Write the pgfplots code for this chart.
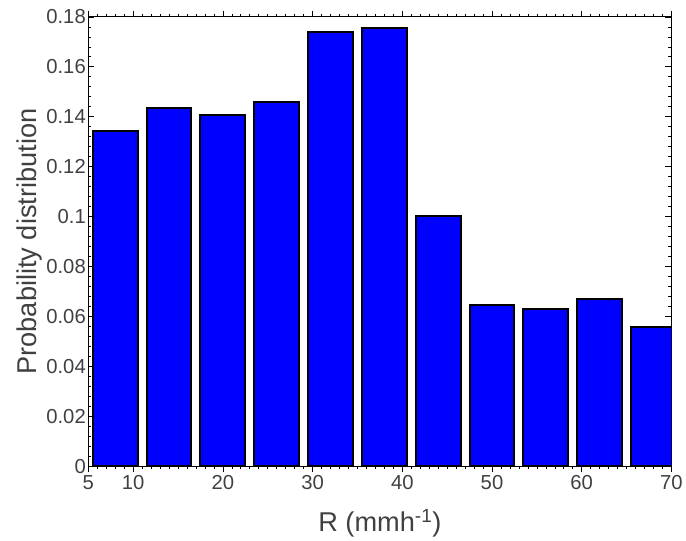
\documentclass[border=0pt]{standalone}
\usepackage{pgfplots}
\pgfplotsset{compat=1.18}
\usepackage{fontspec}
\setmainfont{Liberation Sans}
\definecolor{barblue}{RGB}{0,0,255}
\begin{document}
\begin{tikzpicture}
\begin{axis}[
  scale only axis,
  width=588bp, height=453bp,
  xmin=5, xmax=70, ymin=0, ymax=0.18,
  xtick={5,10,20,30,40,50,60,70},
  minor xtick={6,7,8,9,11,12,13,14,15,16,17,18,19,21,22,23,24,25,26,27,28,29,31,32,33,34,35,36,37,38,39,41,42,43,44,45,46,47,48,49,51,52,53,54,55,56,57,58,59,61,62,63,64,65,66,67,68,69},
  ytick={0,0.02,0.04,0.06,0.08,0.1,0.12,0.14,0.16,0.18},
  yticklabels={0,0.02,0.04,0.06,0.08,0.1,0.12,0.14,0.16,0.18},
  minor y tick num=4,
  scaled y ticks=false,
  tick align=inside,
  major tick length=6bp,
  minor tick length=3bp,
  every tick/.style={black, line width=0.6bp},
  axis line style={black, line width=0.8bp},
  /pgf/number format/assume math mode=true,
  tick label style={font=\fontsize{20.5}{20.5}\selectfont, text=black!75},
  yticklabel style={xshift=1bp},
  label style={font=\fontsize{27.5}{27.5}\selectfont, text=black!75},
  xlabel={R (mmh\textsuperscript{-1})},
  ylabel={Probability distribution},
  xlabel style={at={(axis description cs:0.5,-0.128)}, anchor=center},
  ylabel style={at={(axis description cs:-0.101,0.5)}, anchor=center},
  ybar, bar width=5,
  clip=true,
]
\addplot[fill=barblue, draw=black, line width=2bp] coordinates {
  (8,0.1344) (14,0.1435) (20,0.1406) (26,0.1459) (32,0.1738) (38,0.1756)
  (44,0.1003) (50,0.0647) (56,0.0628) (62,0.0668) (68,0.0558)
};
\end{axis}
\path (current axis.south west) ++(-89bp,-73bp);
\path (current axis.north east) ++(9bp,17bp);
\end{tikzpicture}
\end{document}
